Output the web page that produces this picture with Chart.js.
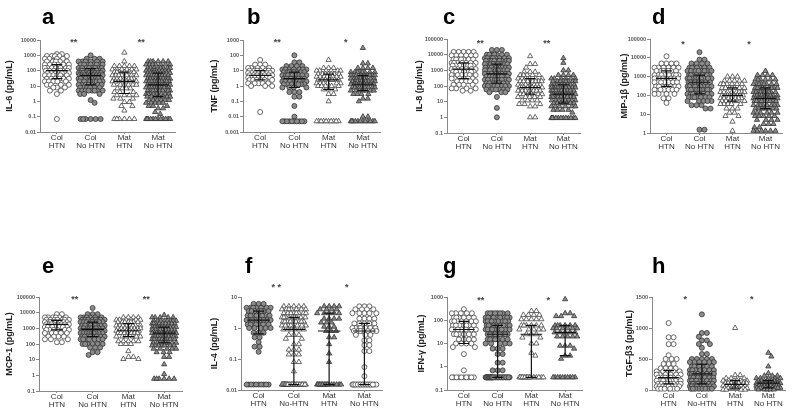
<!DOCTYPE html>
<html>
<head>
<meta charset="utf-8">
<script src="https://cdn.jsdelivr.net/npm/chart.js@4.4.1/dist/chart.umd.min.js"></script>
<style>
html, body { margin: 0; padding: 0; background: #fff; }
body { width: 800px; height: 413px; position: relative; overflow: hidden; }
.panel { position: absolute; }
</style>
</head>
<body>
<script>
// group labels on the x axis
var groupLabels = [['Col', 'HTN'], ['Col', 'No HTN'], ['Mat', 'HTN'], ['Mat', 'No HTN']];
var groupLabelsDash = [['Col', 'HTN'], ['Col', 'No-HTN'], ['Mat', 'HTN'], ['Mat', 'No HTN']];

// every row is [value, number of samples at about that level]

// a - IL-6
var il6Ticks = [0.01, 0.1, 1, 10, 100, 1000, 10000];
var il6Stars = ['**', '**'];
var il6ColHtn = [[1200,2],[900,5],[600,4],[400,5],[250,6],[150,7],[100,7],[70,7],[50,6],[30,6],[20,5],[12,4],[8,3],[5,2],[3,1],[0.07,1]];
var il6ColNoHtn = [[1000,1],[600,3],[400,6],[250,8],[150,8],[100,9],[70,9],[50,9],[30,9],[20,8],[12,7],[8,6],[5,8],[3,3],[1.2,1],[0.8,1],[0.07,6]];
var il6MatHtn = [[1500,1],[400,1],[200,5],[120,6],[80,6],[50,7],[30,7],[20,7],[12,6],[7,4],[4,3],[2.5,4],[1.5,3],[0.9,2],[0.5,2],[0.25,1],[0.07,6]];
var il6MatNoHtn = [[400,6],[250,7],[150,8],[100,9],[70,9],[50,9],[30,10],[20,10],[12,10],[8,9],[5,9],[3,8],[2,7],[1.2,6],[0.8,5],[0.5,3],[0.35,2],[0.2,1],[0.15,1],[0.07,12]];

// b - TNF
var tnfTicks = [0.001, 0.01, 0.1, 1, 10, 100, 1000];
var tnfStars = ['**', '*'];
var tnfColHtn = [[50,1],[25,3],[15,5],[10,7],[7,7],[5,7],[3.5,7],[2.5,6],[1.5,5],[1,3],[0.02,1]];
var tnfColNoHtn = [[100,1],[35,2],[20,4],[12,7],[8,8],[5,9],[3,9],[2,8],[1.3,7],[0.8,4],[0.4,3],[0.2,2],[0.05,1],[0.01,1],[0.005,10]];
var tnfMatHtn = [[50,1],[15,3],[10,6],[6,7],[4,7],[2.5,7],[1.5,6],[1,5],[0.6,3],[0.3,2],[0.1,1],[0.005,10]];
var tnfMatNoHtn = [[300,1],[30,2],[15,4],[8,8],[5,9],[3,10],[2,10],[1.3,10],[0.8,9],[0.5,7],[0.3,4],[0.15,2],[0.1,1],[0.01,2],[0.005,12]];

// c - IL-8
var il8Ticks = [0.1, 1, 10, 100, 1000, 10000, 100000];
var il8Stars = ['**', '**'];
var il8ColHtn = [[15000,5],[9000,6],[5000,7],[3000,7],[2000,7],[1200,7],[800,7],[500,6],[300,6],[200,5],[120,4],[70,4],[50,2]];
var il8ColNoHtn = [[20000,3],[10000,7],[6000,8],[4000,9],[2500,9],[1500,9],[1000,9],[600,9],[400,9],[250,9],[150,8],[100,8],[60,6],[40,3],[20,1],[4,1],[1,1]];
var il8MatHtn = [[8000,1],[2500,2],[1500,1],[800,3],[500,5],[300,6],[200,7],[120,7],[80,8],[50,7],[30,6],[20,5],[12,4],[7,3],[5,2],[1,2]];
var il8MatNoHtn = [[6000,1],[3000,1],[1000,2],[500,4],[300,6],[200,8],[120,9],[80,10],[50,10],[30,10],[20,9],[12,8],[8,7],[5,6],[3,4],[2,1],[0.9,12]];

// d - MIP-1b
var mipTicks = [1, 10, 100, 1000, 10000, 100000];
var mipStars = ['*', '*'];
var mipColHtn = [[12000,1],[5000,4],[3000,6],[2000,7],[1200,8],[800,8],[500,7],[300,7],[200,6],[120,4],[70,2],[40,1]];
var mipColNoHtn = [[20000,1],[8000,2],[5000,4],[3000,7],[2000,8],[1200,9],[800,9],[500,9],[300,9],[200,9],[120,8],[80,7],[50,5],[30,3],[20,2],[1.5,2]];
var mipMatHtn = [[1000,3],[600,5],[400,6],[250,7],[150,8],[100,8],[70,7],[50,6],[35,5],[20,3],[12,2],[8,2],[4,1],[1.3,1]];
var mipMatNoHtn = [[2000,1],[1200,4],[700,6],[400,8],[250,9],[150,10],[100,10],[70,10],[50,9],[30,8],[20,7],[12,6],[8,5],[5,4],[3,3],[2,2],[1.3,6]];

// e - MCP-1
var mcpTicks = [0.1, 1, 10, 100, 1000, 10000, 100000];
var mcpStars = ['**', '**'];
var mcpColHtn = [[8000,2],[5000,6],[3500,7],[2500,8],[1800,8],[1200,7],[800,6],[500,5],[300,4],[200,3],[130,2]];
var mcpColNoHtn = [[20000,1],[8000,3],[5000,6],[3500,8],[2500,9],[1500,9],[1000,9],[700,9],[500,9],[300,8],[200,7],[100,6],[60,3],[30,2],[20,1]];
var mcpMatHtn = [[5000,4],[3500,6],[2500,7],[1500,8],[1000,8],[700,8],[500,7],[300,6],[150,5],[100,3],[35,1],[15,2],[11,2]];
var mcpMatNoHtn = [[7000,1],[5000,5],[3000,8],[2000,9],[1200,10],[800,10],[500,10],[300,10],[200,9],[120,8],[80,7],[50,5],[30,3],[15,2],[5,1],[1.2,1],[0.6,6]];

// f - IL-4
var il4Ticks = [0.01, 0.1, 1, 10];
var il4Stars = ['* *', '*'];
var il4ColHtn = [[6,3],[4.5,7],[3.5,7],[2.5,8],[1.8,8],[1.3,7],[1,5],[0.7,3],[0.5,2],[0.35,1],[0.25,2],[0.17,1],[0.015,10]];
var il4ColNoHtn = [[5,5],[4,7],[3,8],[2.2,9],[1.6,9],[1.2,8],[0.9,6],[0.6,3],[0.45,2],[0.3,2],[0.2,3],[0.14,3],[0.08,2],[0.04,1],[0.015,28]];
var il4MatHtn = [[5,4],[4,4],[3,5],[2,4],[1.5,3],[1.1,3],[0.8,3],[0.5,2],[0.3,1],[0.15,1],[0.08,1],[0.015,16]];
var il4MatNoHtn = [[5,3],[4,4],[3,5],[2,4],[1.4,5],[1,6],[0.8,7],[0.6,3],[0.4,2],[0.28,2],[0.18,2],[0.055,1],[0.028,1],[0.015,20]];

// g - IFN-gamma
var ifnTicks = [0.1, 1, 10, 100, 1000];
var ifnStars = ['**', '*'];
var ifnColHtn = [[300,1],[200,5],[130,6],[90,7],[60,7],[40,7],[25,6],[15,4],[10,4],[7,2],[3.5,1],[0.7,1],[0.35,10]];
var ifnColNoHtn = [[200,8],[130,9],[90,9],[60,9],[40,9],[25,9],[15,7],[10,5],[6,3],[3.5,2],[1.5,2],[0.7,3],[0.35,30]];
var ifnMatHtn = [[250,2],[170,4],[110,5],[60,6],[40,5],[25,3],[18,2],[10,2],[4,1],[3,1],[0.35,16]];
var ifnMatNoHtn = [[800,1],[200,2],[150,3],[60,6],[45,6],[30,5],[20,5],[8,3],[6,1],[3,2],[2.2,1],[0.35,10]];

// h - TGF-b3 (linear axis)
var tgfTicks = [0, 500, 1000, 1500];
var tgfStars = ['*', '*'];
var tgfColHtn = [[1080,1],[850,2],[740,2],[560,1],[500,3],[420,3],[350,4],[300,5],[250,6],[200,7],[150,8],[100,8],[60,8],[20,6]];
var tgfColNoHtn = [[1220,1],[920,2],[860,1],[800,2],[740,2],[680,1],[580,2],[500,5],[450,6],[380,7],[320,7],[260,8],[200,8],[150,9],[100,9],[60,9],[20,8]];
var tgfMatHtn = [[1000,1],[240,2],[190,4],[150,6],[110,7],[70,8],[30,8],[5,4]];
var tgfMatNoHtn = [[600,1],[540,1],[380,1],[270,1],[230,3],[190,5],[150,7],[110,9],[70,10],[35,9],[8,5]];

// marker looks
var markerStyles = {
    openCircle: { pointStyle: 'circle', fill: '#ffffff', border: '#444444', radius: 2.5 },
    grayCircle: { pointStyle: 'circle', fill: '#8c8c8c', border: '#333333', radius: 2.5 },
    openTri: { pointStyle: 'triangle', fill: '#ffffff', border: '#444444', radius: 3 },
    grayTri: { pointStyle: 'triangle', fill: '#8c8c8c', border: '#333333', radius: 3 }
};
var usualMarkers = ['openCircle', 'grayCircle', 'openTri', 'grayTri'];
var il4Markers = ['grayCircle', 'openTri', 'grayTri', 'openCircle'];

// panel placement: canvas box [x, y, w, h] and plot area [left, top, right, bottom] in page pixels
var panels = [
    { letter: 'a', title: 'IL-6 (pg/mL)', groups: [il6ColHtn, il6ColNoHtn, il6MatHtn, il6MatNoHtn], ticks: il6Ticks, stars: il6Stars, labels: groupLabels, markers: usualMarkers, box: [0, 0, 200, 180], plot: [40, 40, 175, 132], titleX: 10, letterX: 42, starDy: 0 },
    { letter: 'b', title: 'TNF (pg/mL)', groups: [tnfColHtn, tnfColNoHtn, tnfMatHtn, tnfMatNoHtn], ticks: tnfTicks, stars: tnfStars, labels: groupLabels, markers: usualMarkers, box: [200, 0, 200, 180], plot: [243, 40, 380, 132], titleX: 215, letterX: 247, starDy: 0 },
    { letter: 'c', title: 'IL-8 (pg/mL)', groups: [il8ColHtn, il8ColNoHtn, il8MatHtn, il8MatNoHtn], ticks: il8Ticks, stars: il8Stars, labels: groupLabels, markers: usualMarkers, box: [400, 0, 200, 180], plot: [447, 39, 580, 133], titleX: 420, letterX: 443, starDy: 2 },
    { letter: 'd', title: 'MIP-1\u03b2 (pg/mL)', groups: [mipColHtn, mipColNoHtn, mipMatHtn, mipMatNoHtn], ticks: mipTicks, stars: mipStars, labels: groupLabels, markers: usualMarkers, box: [600, 0, 200, 180], plot: [650, 39, 782, 133], titleX: 625, letterX: 652, starDy: 3 },
    { letter: 'e', title: 'MCP-1 (pg/mL)', groups: [mcpColHtn, mcpColNoHtn, mcpMatHtn, mcpMatNoHtn], ticks: mcpTicks, stars: mcpStars, labels: groupLabels, markers: usualMarkers, box: [0, 230, 200, 183], plot: [39, 297, 182, 391], titleX: 10, letterX: 42, starDy: 0 },
    { letter: 'f', title: 'IL-4 (pg/mL)', groups: [il4ColHtn, il4ColNoHtn, il4MatHtn, il4MatNoHtn], ticks: il4Ticks, stars: il4Stars, labels: groupLabelsDash, markers: il4Markers, box: [200, 230, 200, 183], plot: [241, 297, 382, 390], titleX: 215, letterX: 245, starDy: -12 },
    { letter: 'g', title: 'IFN-\u03b3 (pg/mL)', groups: [ifnColHtn, ifnColNoHtn, ifnMatHtn, ifnMatNoHtn], ticks: ifnTicks, stars: ifnStars, labels: groupLabels, markers: usualMarkers, box: [400, 230, 200, 183], plot: [447, 297, 582, 390], titleX: 422, letterX: 443, starDy: 1 },
    { letter: 'h', title: 'TGF-\u03b23 (pg/mL)', groups: [tgfColHtn, tgfColNoHtn, tgfMatHtn, tgfMatNoHtn], ticks: tgfTicks, stars: tgfStars, labels: groupLabelsDash, markers: usualMarkers, box: [600, 230, 200, 183], plot: [652, 297, 785, 390], titleX: 630, letterX: 652, starDy: 0, linear: true }
];

var FONT = "'Liberation Sans', Arial, sans-serif";
var Y_W = 22;   // fixed width of the y scale box
var X_H = 18;   // fixed height of the x scale box
var DOT = 4.6;  // spacing of the swarm, px
var HALF = 12;  // half width of a swarm column, px

function expand(rows) {
    var out = [];
    rows.forEach(function (r) { for (var i = 0; i < r[1]; i++) out.push(r[0]); });
    return out;
}

// column scatter: put every point at the nearest free spot beside the group centre
function swarm(rows, group, p) {
    var pxX = (p.plot[2] - p.plot[0]) / 4;
    var h = p.plot[3] - p.plot[1];
    var lo = p.ticks[0], hi = p.ticks[p.ticks.length - 1];
    var yPix = p.linear
        ? function (v) { return (v - lo) / (hi - lo) * h; }
        : function (v) { return (Math.log10(v) - Math.log10(lo)) / (Math.log10(hi) - Math.log10(lo)) * h; };
    var placed = [], pts = [];
    function gapAt(off, y) {
        var g = Infinity;
        placed.forEach(function (q) { g = Math.min(g, Math.hypot(q.x - off, q.y - y)); });
        return g;
    }
    expand(rows).forEach(function (v) {
        var y = yPix(v), best = null;
        for (var k = 0; k <= 2 * HALF; k++) {
            var off = k === 0 ? 0 : (k % 2 ? (k + 1) / 2 : -k / 2);
            if (gapAt(off, y) >= DOT) { best = off; break; }
        }
        if (best === null) {
            var room = -1;
            for (var o = -HALF; o <= HALF; o += 0.5) {
                var g = gapAt(o, y);
                if (g > room) { room = g; best = o; }
            }
        }
        placed.push({ x: best, y: y });
        pts.push({ x: group + best / pxX, y: v });
    });
    return pts;
}

function quantile(sorted, q) {
    var pos = (sorted.length - 1) * q;
    var lo = Math.floor(pos), hi = Math.ceil(pos);
    return sorted[lo] + (sorted[hi] - sorted[lo]) * (pos - lo);
}

// median + interquartile bars, letters, axis titles and stars
var overlay = {
    id: 'overlay',
    afterDatasetsDraw: function (chart, args, opts) {
        var ctx = chart.ctx, xs = chart.scales.x, ys = chart.scales.y;
        ctx.save();
        ctx.strokeStyle = '#111';
        ctx.lineWidth = 1.2;
        opts.groups.forEach(function (rows, i) {
            var vals = expand(rows).sort(function (a, b) { return a - b; });
            var cx = i + 1;
            var ym = ys.getPixelForValue(quantile(vals, 0.5));
            var y1 = ys.getPixelForValue(quantile(vals, 0.25));
            var y3 = ys.getPixelForValue(quantile(vals, 0.75));
            ctx.beginPath();
            ctx.moveTo(xs.getPixelForValue(cx - 0.32), ym); ctx.lineTo(xs.getPixelForValue(cx + 0.32), ym);
            ctx.moveTo(xs.getPixelForValue(cx - 0.16), y1); ctx.lineTo(xs.getPixelForValue(cx + 0.16), y1);
            ctx.moveTo(xs.getPixelForValue(cx - 0.16), y3); ctx.lineTo(xs.getPixelForValue(cx + 0.16), y3);
            ctx.moveTo(xs.getPixelForValue(cx), y1); ctx.lineTo(xs.getPixelForValue(cx), y3);
            ctx.stroke();
        });
        ctx.restore();
    },
    afterDraw: function (chart, args, opts) {
        var ctx = chart.ctx, area = chart.chartArea, xs = chart.scales.x;
        ctx.save();
        // panel letter
        ctx.fillStyle = '#000';
        ctx.font = 'bold 22px ' + FONT;
        ctx.textAlign = 'left';
        ctx.textBaseline = 'alphabetic';
        ctx.fillText(opts.letter, opts.letterX, opts.letterY);
        // y axis title
        ctx.font = 'bold 9px ' + FONT;
        ctx.fillStyle = '#222';
        ctx.translate(opts.titleX, (area.top + area.bottom) / 2);
        ctx.rotate(-Math.PI / 2);
        ctx.textAlign = 'center';
        ctx.textBaseline = 'middle';
        ctx.fillText(opts.title, 0, 0);
        ctx.setTransform(1, 0, 0, 1, 0, 0);
        // significance stars between the groups
        ctx.font = 'bold 9px ' + FONT;
        ctx.fillStyle = '#444';
        ctx.textAlign = 'center';
        ctx.textBaseline = 'middle';
        opts.stars.forEach(function (s, i) {
            ctx.fillText(s, xs.getPixelForValue(1.5 + 2 * i), area.top + 3 + opts.starDy);
        });
        ctx.restore();
    }
};

panels.forEach(function (p) {
    var div = document.createElement('div');
    div.className = 'panel';
    div.style.left = p.box[0] + 'px';
    div.style.top = p.box[1] + 'px';
    div.style.width = p.box[2] + 'px';
    div.style.height = p.box[3] + 'px';
    var canvas = document.createElement('canvas');
    div.appendChild(canvas);
    document.body.appendChild(div);

    var datasets = p.groups.map(function (rows, i) {
        var m = markerStyles[p.markers[i]];
        return {
            data: swarm(rows, i + 1, p),
            pointStyle: m.pointStyle,
            pointRadius: m.radius,
            backgroundColor: m.fill,
            borderColor: m.border,
            borderWidth: 0.8,
            clip: false
        };
    });

    new Chart(canvas.getContext('2d'), {
        type: 'scatter',
        data: { datasets: datasets },
        options: {
            responsive: true,
            maintainAspectRatio: false,
            animation: false,
            layout: {
                padding: {
                    left: p.plot[0] - p.box[0] - Y_W,
                    top: p.plot[1] - p.box[1],
                    right: p.box[0] + p.box[2] - p.plot[2],
                    bottom: p.box[1] + p.box[3] - p.plot[3] - X_H
                }
            },
            plugins: {
                legend: { display: false },
                tooltip: { enabled: false },
                overlay: {
                    groups: p.groups, letter: p.letter, title: p.title, stars: p.stars,
                    letterX: p.letterX - p.box[0], letterY: p.box[1] === 0 ? 24 : 273 - p.box[1],
                    titleX: p.titleX - p.box[0], starDy: p.starDy
                }
            },
            scales: {
                x: {
                    type: 'linear',
                    min: 0.5,
                    max: 4.5,
                    afterBuildTicks: function (s) { s.ticks = [1, 2, 3, 4].map(function (v) { return { value: v }; }); },
                    afterFit: function (s) { s.height = X_H; },
                    ticks: {
                        color: '#333',
                        font: { family: FONT, size: 8, lineHeight: 0.95 },
                        padding: 0,
                        maxRotation: 0,
                        autoSkip: false,
                        callback: function (v) { return p.labels[v - 1]; }
                    },
                    grid: { display: true, drawOnChartArea: false, drawTicks: true, tickLength: 2, color: '#888' },
                    border: { display: true, color: '#888', width: 1 }
                },
                y: {
                    type: p.linear ? 'linear' : 'logarithmic',
                    min: p.ticks[0],
                    max: p.ticks[p.ticks.length - 1],
                    afterBuildTicks: function (s) { s.ticks = p.ticks.map(function (v) { return { value: v }; }); },
                    afterFit: function (s) { s.width = Y_W; },
                    ticks: {
                        color: '#555',
                        font: { family: FONT, size: 5.5, weight: 'bold' },
                        padding: 1,
                        autoSkip: false,
                        callback: function (v) { return String(v); }
                    },
                    grid: { display: true, drawOnChartArea: false, drawTicks: true, tickLength: 3, color: '#888' },
                    border: { display: true, color: '#888', width: 1 }
                }
            }
        },
        plugins: [overlay]
    });
});
</script>
</body>
</html>
